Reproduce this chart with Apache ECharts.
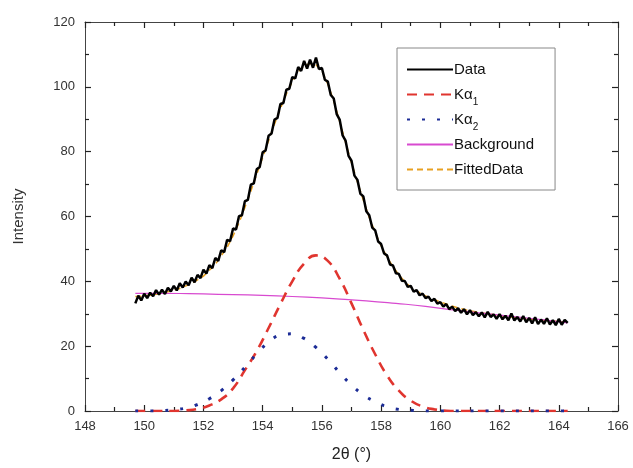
<!DOCTYPE html>
<html><head><meta charset="utf-8">
<script src="https://cdn.jsdelivr.net/npm/echarts@6/dist/echarts.min.js"></script>
<style>html,body{margin:0;padding:0;background:#fff}#c{width:633px;height:468px}</style>
</head><body><div id="c"></div>
<script>
// Measured data (2θ, intensity)
var dataPts = [
[149.7,33.2],[149.8,35.6],[149.9,34.1],[150.0,36.2],[150.1,34.8],[150.2,36.5],[150.3,35.4],[150.4,37.3],[150.5,35.9],[150.6,37.4],
[150.7,36.1],[150.8,38.0],[150.9,36.9],[151.0,38.6],[151.1,37.2],[151.2,39.4],[151.3,38.1],[151.4,39.9],[151.5,38.8],[151.6,41.1],
[151.7,39.7],[151.8,42.0],[151.9,41.0],[152.0,43.6],[152.1,42.4],[152.2,45.0],[152.3,44.1],[152.4,47.2],[152.5,46.3],[152.6,49.6],
[152.7,49.0],[152.8,52.8],[152.9,52.4],[153.0,56.3],[153.1,56.0],[153.2,60.1],[153.3,60.4],[153.4,64.7],[153.5,65.1],[153.6,69.8],
[153.7,70.2],[153.8,74.6],[153.9,75.3],[154.0,79.8],[154.1,80.4],[154.2,84.9],[154.3,85.6],[154.4,89.9],[154.5,90.4],[154.6,94.7],
[154.7,95.0],[154.8,99.1],[154.9,99.4],[155.0,103.0],[155.1,102.6],[155.2,106.1],[155.3,104.9],[155.4,108.0],[155.5,105.6],[155.6,108.4],
[155.7,105.9],[155.8,109.0],[155.9,105.5],[156.0,105.8],[156.1,102.2],[156.2,101.6],[156.3,97.5],[156.4,96.4],[156.5,91.6],[156.6,89.9],
[156.7,85.0],[156.8,83.4],[156.9,78.7],[157.0,77.2],[157.1,72.6],[157.2,71.3],[157.3,67.0],[157.4,66.2],[157.5,61.6],[157.6,60.4],
[157.7,56.6],[157.8,55.7],[157.9,52.3],[158.0,51.5],[158.1,48.6],[158.2,48.0],[158.3,45.2],[158.4,44.9],[158.5,42.5],[158.6,42.3],
[158.7,40.2],[158.8,40.1],[158.9,38.3],[159.0,38.6],[159.1,36.8],[159.2,37.3],[159.3,35.7],[159.4,36.2],[159.5,34.8],[159.6,35.3],
[159.7,33.9],[159.8,34.6],[159.9,33.1],[160.0,33.6],[160.1,32.2],[160.2,33.0],[160.3,31.4],[160.4,32.2],[160.5,30.8],[160.6,31.7],
[160.7,30.3],[160.8,31.4],[160.9,29.8],[161.0,31.1],[161.1,29.6],[161.2,30.5],[161.3,29.2],[161.4,30.4],[161.5,28.9],[161.6,30.6],
[161.7,29.0],[161.8,29.8],[161.9,28.4],[162.0,29.9],[162.1,28.3],[162.2,29.4],[162.3,28.0],[162.4,30.1],[162.5,27.9],[162.6,29.0],
[162.7,27.6],[162.8,29.3],[162.9,27.4],[163.0,28.7],[163.1,27.0],[163.2,28.9],[163.3,26.8],[163.4,28.2],[163.5,26.9],[163.6,28.6],
[163.7,26.7],[163.8,28.0],[163.9,26.5],[164.0,28.4],[164.1,26.6],[164.2,28.1],[164.3,27.2]
];
var ka1Pts = [
[149.7,0],[150.6,0],[151.0,0],[151.4,0.2],[151.8,0.6],[152.2,1.7],[152.6,3.6],[153.0,7.0],[153.4,12.6],[153.8,18.5],
[154.2,25.6],[154.6,33.0],[155.0,40.0],[155.4,45.5],[155.8,48.0],[156.2,46.3],[156.6,40.8],[157.0,33.2],[157.4,25.0],[157.8,17.5],
[158.2,11.0],[158.6,6.3],[159.0,3.2],[159.4,1.4],[159.8,0.5],[160.2,0.1],[160.6,0],[162.0,0],[164.3,0]
];
var ka2Pts = [
[149.7,0],[150.2,0],[150.6,0.1],[151.0,0.4],[151.4,0.9],[151.8,2.0],[152.2,3.8],[152.6,6.3],[153.0,9.6],[153.4,13.5],
[153.8,17.6],[154.2,21.2],[154.6,23.4],[155.0,23.8],[155.4,22.4],[155.8,19.6],[156.2,16.0],[156.6,11.8],[157.0,8.0],[157.4,5.0],
[157.8,2.9],[158.2,1.3],[158.6,0.5],[159.0,0.2],[159.4,0],[162.0,0],[164.3,0]
];
var bgPts = [
[149.7,36.3],[150.5,36.3],[151.5,36.2],[152.5,36.0],[153.5,35.8],[154.5,35.5],[155.5,35.1],[156.5,34.6],[157.5,34.0],[158.5,33.2],
[159.5,32.3],[160.5,31.1],[161.5,30.1],[162.5,29.1],[163.5,28.1],[164.3,27.2]
];
var fitPts = [
[149.7,35.3],[150.0,35.5],[150.4,36.0],[150.8,36.8],[151.2,37.8],[151.6,39.3],[152.0,41.6],[152.4,45.2],[152.8,50.5],[153.0,54.0],
[153.2,58.0],[153.4,62.8],[153.6,67.8],[153.8,73.0],[154.0,78.2],[154.2,83.4],[154.4,88.5],[154.6,93.3],[154.8,97.8],[155.0,101.6],
[155.2,104.6],[155.4,106.5],[155.6,107.2],[155.8,106.8],[156.0,104.8],[156.2,100.9],[156.4,95.6],[156.6,89.3],[156.8,82.8],[157.0,76.6],
[157.2,70.7],[157.4,65.0],[157.6,59.7],[157.8,55.0],[158.0,51.0],[158.2,47.5],[158.4,44.5],[158.6,42.0],[158.8,39.9],[159.0,38.2],
[159.4,35.9],[159.8,34.3],[160.2,33.0],[160.6,31.8],[161.0,30.9],[161.6,30.0],[162.2,29.2],[162.8,28.5],[163.4,28.0],[164.0,27.6],[164.3,27.4]
];
var seriesNames = ['Data','Ka1','Ka2','Background','FittedData'];
var xTicks = {min:148, max:166, interval:2};
var yTicks = {min:0, max:120, interval:20};

var chart = echarts.init(document.getElementById('c'), null, {renderer:'canvas'});
var FONT = 'Liberation Sans, Arial, sans-serif';
var axisCol = '#444';
function mkX(pos, showLabel, name){
  return {type:'value', position:pos, min:xTicks.min, max:xTicks.max, interval:xTicks.interval,
    name: name||'', nameLocation:'middle', nameGap:36,
    nameTextStyle:{fontFamily:FONT, fontSize:16, color:'#222'},
    axisLine:{show:true, onZero:false, lineStyle:{color:axisCol, width:1}},
    axisTick:{show:true, inside:true, length:6, lineStyle:{color:'#222', width:1.2}},
    minorTick:{show:true, splitNumber:2, length:4, lineStyle:{color:'#222', width:1.2}},
    axisLabel:{show:showLabel, margin:9, fontFamily:FONT, fontSize:13, color:'#333'},
    splitLine:{show:false}, minorSplitLine:{show:false}};
}
function mkY(pos, showLabel, name){
  return {type:'value', position:pos, min:yTicks.min, max:yTicks.max, interval:yTicks.interval,
    name: name||'', nameLocation:'middle', nameGap:59,
    nameTextStyle:{fontFamily:FONT, fontSize:15, color:'#333'},
    axisLine:{show:true, onZero:false, lineStyle:{color:axisCol, width:1}},
    axisTick:{show:true, inside:true, length:6, lineStyle:{color:'#222', width:1.2}},
    minorTick:{show:true, splitNumber:2, length:4, lineStyle:{color:'#222', width:1.2}},
    axisLabel:{show:showLabel, margin:10, fontFamily:FONT, fontSize:13, color:'#333'},
    splitLine:{show:false}, minorSplitLine:{show:false}};
}
var legendLabels = {
  'Data':'{g|Data}',
  'Ka1':'{g|Kα}{s|1}',
  'Ka2':'{g|Kα}{s|2}',
  'Background':'{g|Background}',
  'FittedData':'{g|FittedData}'
};
chart.setOption({
  animation:false,
  backgroundColor:'#fff',
  grid:{left:85, right:15, top:22, bottom:55},
  xAxis:[mkX('bottom', true, '2θ (°)'), mkX('top', false)],
  yAxis:[mkY('left', true, 'Intensity'), mkY('right', false)],
  legend:{
    orient:'vertical', left:397, top:48,
    padding:[9, 21, 8, 9],
    backgroundColor:'#fff', borderColor:'#888', borderWidth:1,
    itemWidth:46, itemHeight:14, itemGap:0,
    itemStyle:{opacity:0},
    data: seriesNames,
    formatter:function(n){return legendLabels[n];},
    textStyle:{fontFamily:FONT, fontSize:15, color:'#111', lineHeight:25, padding:[0,0,0,-4],
      rich:{g:{fontFamily:FONT, fontSize:15, color:'#111', lineHeight:25},
            s:{fontFamily:FONT, fontSize:10, color:'#111', lineHeight:15, verticalAlign:'bottom'}}}
  },
  series:[
    {name:'FittedData', type:'line', data:fitPts, showSymbol:false, symbol:'none', smooth:false, z:2,
      lineStyle:{color:'#e8a020', width:1.5, type:[6,4]}, itemStyle:{color:'#e8a020'}},
    {name:'Background', type:'line', data:bgPts, showSymbol:false, symbol:'none', smooth:true, z:3,
      lineStyle:{color:'#d84ad0', width:1.2}, itemStyle:{color:'#d84ad0'}},
    {name:'Ka1', type:'line', data:ka1Pts, showSymbol:false, symbol:'none', smooth:true, z:3,
      lineStyle:{color:'#e0352f', width:2.6, type:[10,7]}, itemStyle:{color:'#e0352f'}},
    {name:'Ka2', type:'line', data:ka2Pts, showSymbol:false, symbol:'none', smooth:true, z:3,
      lineStyle:{color:'#1c2c96', width:3, type:[3,12]}, itemStyle:{color:'#1c2c96'}},
    {name:'Data', type:'line', data:dataPts, showSymbol:false, symbol:'none', z:4,
      lineStyle:{color:'#000', width:2.5}, itemStyle:{color:'#000'}}
  ]
});
</script></body></html>
